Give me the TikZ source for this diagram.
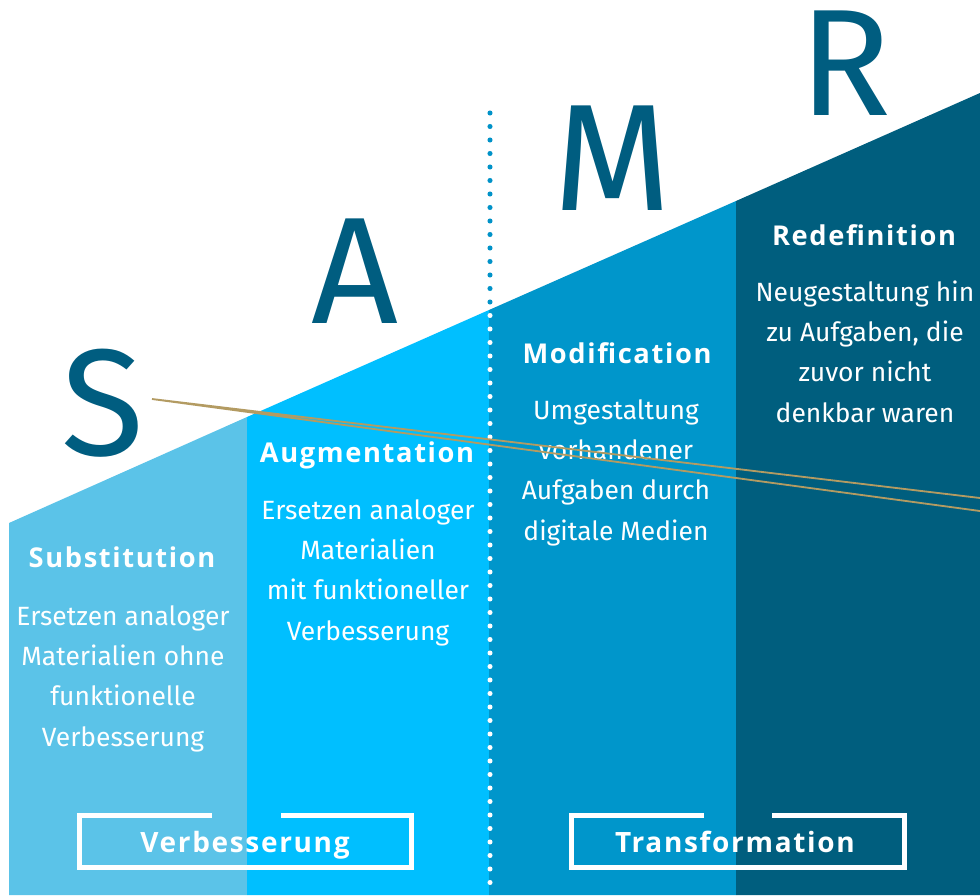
\documentclass[tikz,border=0pt]{standalone}
\usepackage{fontspec}
\setmainfont{Fira Sans}
\newfontfamily\headfont{Open Sans}[LetterSpace=6]
\usetikzlibrary{positioning}

\definecolor{sblue}{HTML}{5BC3E8}
\definecolor{ablue}{HTML}{00BFFF}
\definecolor{mblue}{HTML}{0096CB}
\definecolor{rblue}{HTML}{005E7E}
\definecolor{letterblue}{HTML}{005D80}
\definecolor{dotblue}{HTML}{0092C8}
\definecolor{gold}{HTML}{B39B62}

\tikzset{
  bigletter/.style={text=letterblue, inner sep=0pt, anchor=base, font=\fontsize{108}{108}\selectfont},
  title/.style={text=white, inner sep=0pt, anchor=base, font=\headfont\bfseries\fontsize{19.4}{22}\selectfont},
  body/.style={text=white, inner sep=0pt, anchor=base, align=center, font=\fontsize{18.8}{28.5}\selectfont},
  frametext/.style={text=white, inner sep=0pt, anchor=base, font=\headfont\bfseries\fontsize{19.9}{22}\selectfont},
  frameline/.style={draw=white, line width=3.6pt},
  dotline/.style={line width=3.6pt, line cap=round, dash pattern=on 0pt off 9.6pt},
}

\begin{document}
\begin{tikzpicture}[x=0.025cm, y=-0.025cm]
\fill[white] (0,0) rectangle (980,895);
\useasboundingbox (0,0) rectangle (980,895);

% the four steps
\fill[sblue] (9,523) -- (247,417) -- (247,895) -- (9,895) -- cycle;
\fill[ablue] (247,417) -- (489,310) -- (489,895) -- (247,895) -- cycle;
\fill[mblue] (489,310) -- (736,201) -- (736,895) -- (489,895) -- cycle;
\fill[rblue] (736,201) -- (980,93) -- (980,895) -- (736,895) -- cycle;

% dotted divider
\coordinate (dtop) at (490,113);
\coordinate (dbot) at (490,895);
\draw[dotline, dotblue] (dtop) -- (dbot);
\begin{scope}
  \clip (9,523) -- (980,93) -- (980,895) -- (9,895) -- cycle;
  \draw[dotline, white] (dtop) -- (dbot);
\end{scope}

% letters
\node (S) at (103,455) [bigletter] {S};
\node (A) at (355,323) [bigletter] {A};
\node (M) at (613,210) [bigletter] {M};
\node (R) at (845,115) [bigletter] {R};

% titles and texts (body anchored at its last line)
\node (sub) at (122,567) [title] {Substitution};
\node (subtext) at (123,746) [body] {Ersetzen analoger\\Materialien ohne\\funktionelle\\Verbesserung};
\node (aug) at (367,462) [title] {Augmentation};
\node (augtext) at (368,640) [body] {Ersetzen analoger\\Materialien\\mit funktioneller\\Verbesserung};
\node (mod) at (617,363) [title] {Modification};
\node (modtext) at (616,540) [body] {Umgestaltung\\vorhandener\\Aufgaben durch\\digitale Medien};
\node (red) at (864,245) [title] {Redefinition};
\node (redtext) at (865,422) [body] {Neugestaltung hin\\zu Aufgaben, die\\zuvor nicht\\denkbar waren};

% frames
\node (verb) at (245,852) [frametext] {Verbesserung};
\draw[frameline] (212,815.5) -- (79.5,815.5) -- (79.5,867.5) -- (411.5,867.5) -- (411.5,815.5) -- (281,815.5);
\node (trans) at (735,852) [frametext] {Transformation};
\draw[frameline] (704,815.5) -- (571.5,815.5) -- (571.5,867.5) -- (904.5,867.5) -- (904.5,815.5) -- (772,815.5);

% gold lines
\coordinate (g0) at (152,399);
\coordinate (g1) at (980,498);
\coordinate (g2) at (980,511);
\draw[gold, line width=1.3pt] (g1) -- (g0) -- (g2);
\end{tikzpicture}
\end{document}
